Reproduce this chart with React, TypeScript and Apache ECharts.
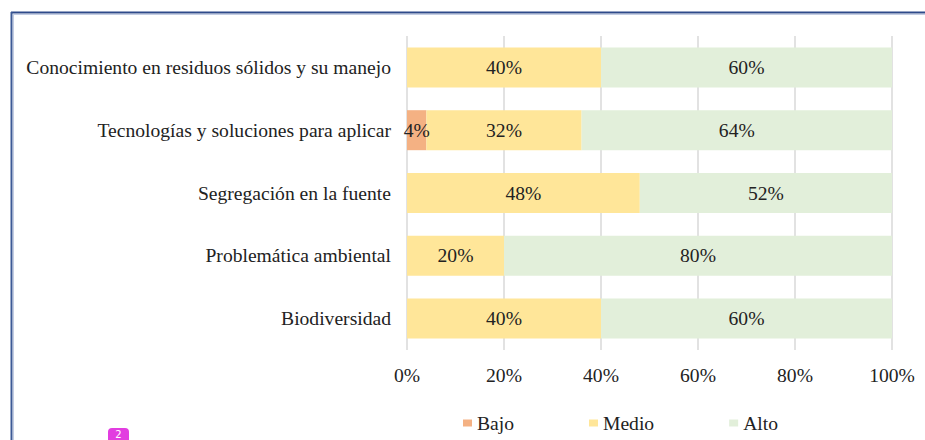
import React, { useEffect, useRef } from "react";
import * as echarts from "echarts";

const categories = [
  "Conocimiento en residuos sólidos y su manejo",
  "Tecnologías y soluciones para aplicar",
  "Segregación en la fuente",
  "Problemática ambiental",
  "Biodiversidad",
];
const bajo = [0, 4, 0, 0, 0];
const medio = [40, 32, 48, 20, 40];
const alto = [60, 64, 52, 80, 60];
const seriesNames = ["Bajo", "Medio", "Alto"];
const colors = ["#f4b183", "#ffe699", "#e2efda"];

const FONT = "'Liberation Serif', 'Times New Roman', serif";
const FS = 19.6;

export default function App() {
  const ref = useRef<HTMLDivElement>(null);
  useEffect(() => {
    if (!ref.current) return;
    const chart = echarts.init(ref.current, null, { renderer: "svg" });
    const mk = (name: string, data: number[], color: string) => ({
      name,
      type: "bar",
      stack: "total",
      data,
      barWidth: 40,
      itemStyle: { color },
      label: {
        show: true,
        position: "inside",
        fontFamily: FONT,
        fontSize: FS,
        color: "#222",
        formatter: (p: any) => (p.value ? p.value + "%" : ""),
      },
    });
    chart.setOption({
      animation: false,
      textStyle: { fontFamily: FONT },
      grid: { left: 407, right: 33, top: 36, bottom: 90, containLabel: false },
      legend: {
        data: seriesNames,
        left: 463,
        top: 413,
        padding: 0,
        itemWidth: 9,
        itemHeight: 7,
        itemGap: 75,
        icon: "rect",
        textStyle: { fontFamily: FONT, fontSize: FS, color: "#222" },
      },
      xAxis: {
        type: "value",
        min: 0,
        max: 100,
        interval: 20,
        axisLine: { show: false },
        axisTick: { show: false },
        splitLine: { lineStyle: { color: "#d9d9d9", width: 1.5 } },
        axisLabel: {
          formatter: "{value}%",
          fontFamily: FONT,
          fontSize: FS,
          color: "#222",
          margin: 15,
        },
      },
      yAxis: {
        type: "category",
        data: categories,
        inverse: true,
        axisLine: { show: false },
        axisTick: { show: false },
        axisLabel: { fontFamily: FONT, fontSize: FS, color: "#222", margin: 16 },
      },
      series: [
        mk(seriesNames[0], bajo, colors[0]),
        mk(seriesNames[1], medio, colors[1]),
        mk(seriesNames[2], alto, colors[2]),
      ],
      graphic: [
        { type: "line", shape: { x1: 11, y1: 12.5, x2: 925, y2: 12.5 }, style: { stroke: "#2e4a8a", lineWidth: 2 }, silent: true },
        { type: "line", shape: { x1: 13, y1: 14.5, x2: 925, y2: 14.5 }, style: { stroke: "#c3cde3", lineWidth: 1 }, silent: true },
        { type: "line", shape: { x1: 11.5, y1: 12, x2: 11.5, y2: 440 }, style: { stroke: "#3d5a96", lineWidth: 2 }, silent: true },
        { type: "line", shape: { x1: 13.5, y1: 14, x2: 13.5, y2: 440 }, style: { stroke: "#c3cde3", lineWidth: 1 }, silent: true },
        { type: "rect", shape: { x: 108, y: 428, width: 21, height: 20, r: 4 }, style: { fill: "#e23de0" }, silent: true },
        { type: "text", x: 118.5, y: 429, style: { text: "2", fill: "#fff", fontSize: 10, fontFamily: "DejaVu Sans", align: "center" }, silent: true },
      ],
    });
    return () => chart.dispose();
  }, []);
  return (
    <div
      ref={ref}
      style={{ position: "absolute", left: 0, top: 0, width: 925, height: 440, background: "#fff" }}
    />
  );
}
